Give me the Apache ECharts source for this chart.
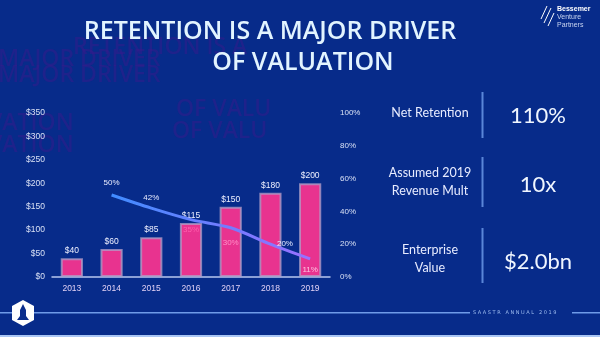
<!DOCTYPE html>
<html><head><meta charset="utf-8">
<script src="https://cdn.jsdelivr.net/npm/echarts@6/dist/echarts.min.js"></script>
<style>html,body{margin:0;padding:0;background:#072b8a;}#c{width:600px;height:337px;}</style>
</head><body><div id="c"></div>
<script>
const years = ['2013','2014','2015','2016','2017','2018','2019'];
const revenue = [40, 60, 85, 115, 150, 180, 200];
const retention = [null, 50, 42, 35, 30, 20, 11];
const revTicks = [0, 50, 100, 150, 200, 250, 300, 350];
const pctTicks = [0, 20, 40, 60, 80, 100];
const metricNames = [['Net Retention'], ['Assumed 2019', 'Revenue Mult'], ['Enterprise', 'Value']];
const metricValues = ['110%', '10x', '$2.0bn'];

const chart = echarts.init(document.getElementById('c'));
const labelPos = [null, 'top', 'top', 'bottom', 'bottom', 'right', 'bottom'];
const labelCol = [null, '#e8ecff', '#e8ecff', '#ff5fae', '#ff8fc8', '#e8ecff', '#ffc0e0'];

const ghost = 'rgba(55,25,140,0.5)';
const gFont = '600 23px "Open Sans"';
const tFont = '600 25px "Open Sans"';
const graphics = [
  {type:'text', x:73, y:36, style:{text:'RETENTION IS A', font:gFont, fill:ghost}},
  {type:'text', x:-2, y:48, style:{text:'MAJOR DRIVER', font:gFont, fill:ghost}},
  {type:'text', x:-2, y:64, style:{text:'MAJOR DRIVER', font:gFont, fill:ghost}},
  {type:'text', x:-12, y:112, style:{text:'VATION', font:gFont, fill:ghost}},
  {type:'text', x:-12, y:134, style:{text:'VATION', font:gFont, fill:ghost}},
  {type:'text', x:176, y:98, style:{text:'OF VALU', font:gFont, fill:ghost}},
  {type:'text', x:172, y:120, style:{text:'OF VALU', font:gFont, fill:ghost}},
  {type:'text', x:270, y:31.5, style:{text:'RETENTION IS A MAJOR DRIVER', font:tFont, fill:'#e2f4ff', align:'center', verticalAlign:'middle'}},
  {type:'text', x:303, y:63, style:{text:'OF VALUATION', font:tFont, fill:'#e2f4ff', align:'center', verticalAlign:'middle'}},
  {type:'rect', shape:{x:0, y:312, width:470, height:1.5}, style:{fill:'#6f9be8'}},
  {type:'rect', shape:{x:572, y:312, width:28, height:1.5}, style:{fill:'#6f9be8'}},
  {type:'text', x:473, y:310, style:{text:'S A A S T R   A N N U A L   2 0 1 9', font:'5px "DejaVu Sans"', fill:'#9fbdf0'}},
  {type:'rect', shape:{x:0, y:335, width:600, height:2}, style:{fill:'#a9c6f5'}},
  {type:'polygon', shape:{points:[[23,300],[34,306],[34,320],[23,326],[12,320],[12,306]]}, style:{fill:'#ffffff'}},
  {type:'polygon', shape:{points:[[23,304],[26,310],[26,316],[29,320],[17,320],[20,316],[20,310]]}, style:{fill:'#0a2d8c'}},
  {type:'text', x:557, y:6, style:{text:'Bessemer', font:'bold 7px "Liberation Sans"', fill:'#ffffff'}},
  {type:'text', x:557, y:14, style:{text:'Venture', font:'7px "Liberation Sans"', fill:'#c8d4f0'}},
  {type:'text', x:557, y:22, style:{text:'Partners', font:'7px "Liberation Sans"', fill:'#c8d4f0'}},
  {type:'line', shape:{x1:541,y1:19,x2:547,y2:6}, style:{stroke:'#ffffff', lineWidth:1}},
  {type:'line', shape:{x1:544,y1:23,x2:551,y2:8}, style:{stroke:'#ffffff', lineWidth:1}},
  {type:'line', shape:{x1:548,y1:26,x2:554,y2:13}, style:{stroke:'#ffffff', lineWidth:1}}
];
const rowY = [113, 182, 259];
const barRanges = [[92,138],[157,207],[228,283]];
metricNames.forEach((lines, i) => {
  const lh = 18;
  const y0 = rowY[i] - (lines.length - 1) * lh / 2;
  lines.forEach((t, j) => {
    graphics.push({type:'text', x:430, y:y0 + j*lh, style:{text:t, font:'12.5px Lato', fill:'#e8ecff', align:'center', verticalAlign:'middle'}});
  });
  graphics.push({type:'rect', shape:{x:481.5, y:barRanges[i][0], width:2, height:barRanges[i][1]-barRanges[i][0]}, style:{fill:'#5a86d8'}});
  graphics.push({type:'text', x:538, y:rowY[i]+3, style:{text:metricValues[i], font:'22px Lato', fill:'#f0f6ff', align:'center', verticalAlign:'middle'}});
});

chart.setOption({
  backgroundColor:'#072b8a',
  animation:false,
  graphic: graphics,
  grid:{left:52, right:270, top:113, bottom:60, containLabel:false},
  xAxis:{type:'category', data:years,
    axisLine:{lineStyle:{color:'#b8c8f0', width:1.5}}, axisTick:{show:false},
    axisLabel:{color:'#e0d0f4', fontSize:8.5, fontFamily:'Liberation Sans', margin:7}},
  yAxis:[
    {type:'value', min:0, max:350, interval:50, splitLine:{show:false}, axisLine:{show:false}, axisTick:{show:false},
      axisLabel:{color:'#d8e0f4', fontSize:8.5, fontFamily:'Liberation Sans', margin:7, formatter: v => revTicks.includes(v) ? '$' + v : ''}},
    {type:'value', min:0, max:100, interval:20, splitLine:{show:false}, position:'right', axisLine:{show:false}, axisTick:{show:false},
      axisLabel:{color:'#d8e0f4', fontSize:8, fontFamily:'Liberation Sans', margin:10, formatter: v => pctTicks.includes(v) ? v + '%' : ''}}
  ],
  series:[
    {type:'bar', data:revenue, barWidth:'56%',
      itemStyle:{color:'#e8338f', borderColor:'rgba(175,160,200,0.75)', borderWidth:2},
      label:{show:true, position:'top', distance:3, color:'#eef0ff', fontSize:8.5, fontFamily:'Liberation Sans', formatter: p => '$' + p.value}},
    {type:'line', yAxisIndex:1, data:retention.map((v,i) => v === null ? null : {value:v,
        label:{show:true, position:labelPos[i], color:labelCol[i], distance: i===1 ? 8 : (i===4 ? 10 : 6)}}),
      smooth:0.3, symbol:'circle', symbolSize:1, showSymbol:true, itemStyle:{color:'rgba(0,0,0,0)'}, connectNulls:false,
      lineStyle:{width:3, color:{type:'linear', x:0, y:0, x2:1, y2:0, colorStops:[{offset:0, color:'#3f8cff'},{offset:1, color:'#9a70ff'}]}},
      label:{show:true, fontSize:8, fontFamily:'Liberation Sans', formatter: p => p.value + '%'}, z:5}
  ]
});
</script></body></html>
